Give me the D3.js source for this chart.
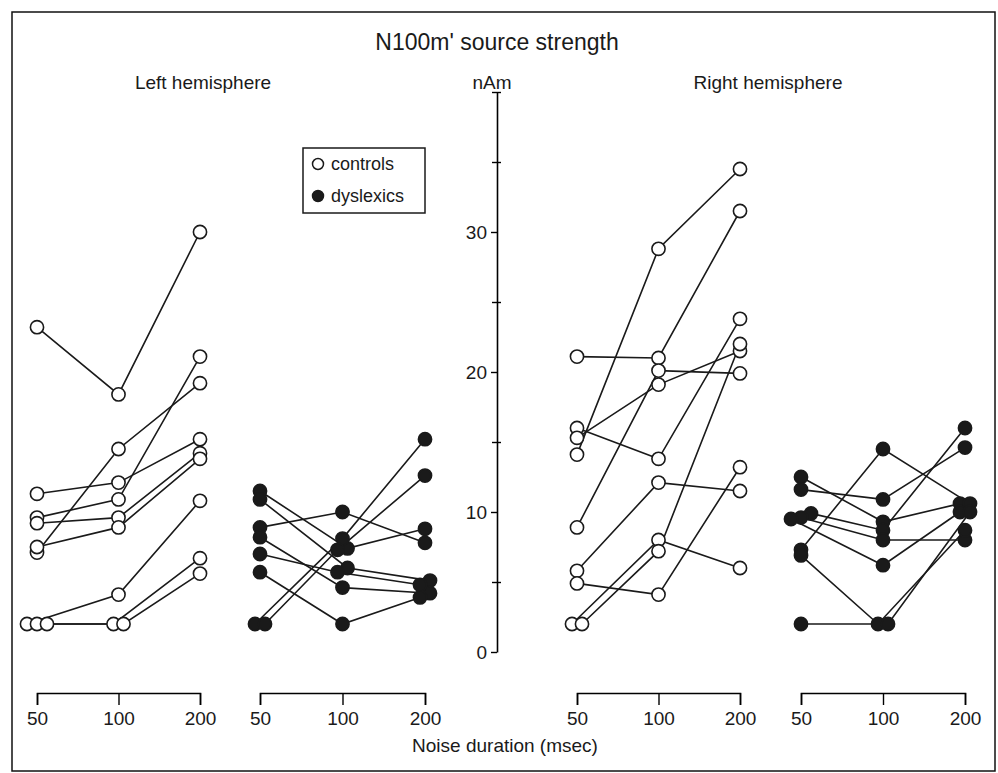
<!DOCTYPE html>
<html>
<head>
<meta charset="utf-8">
<script src="https://cdn.jsdelivr.net/npm/d3@7"></script>
<style>
  body { margin: 0; background: #fff; }
  text { font-family: "Liberation Sans", Arial, sans-serif; fill: #1a1a1a; }
</style>
</head>
<body>
<script>
// noise durations (msec)
const durations = ["50", "100", "200"];

// one row per subject: source strength (nAm) at 50, 100, 200 msec
const leftControls = [
    [23.2, 18.4, 30.0],
    [7.1, 14.5, 19.2],
    [9.6, 10.9, 21.1],
    [11.3, 12.1, 15.2],
    [9.2, 9.6, 14.2],
    [7.5, 8.9, 13.8],
    [2.0, 4.1, 10.8],
    [2.0, 2.0, 6.7],
    [2.0, 2.0, 5.6]
];
const leftDyslexics = [
    [11.5, 7.4, 8.8],
    [10.9, 6.0, 5.1],
    [8.9, 10.0, 7.8],
    [8.2, 4.6, 4.2],
    [7.0, 5.7, 4.8],
    [5.7, 2.0, 3.9],
    [2.0, 8.1, 15.2],
    [2.0, 7.3, 12.6]
];
const rightControls = [
    [14.1, 28.8, 34.5],
    [21.1, 21.0, 31.5],
    [16.0, 13.8, 23.8],
    [15.3, 19.1, 21.5],
    [8.9, 20.1, 19.9],
    [5.8, 12.1, 11.5],
    [4.9, 4.1, 13.2],
    [2.0, 8.0, 6.0],
    [2.0, 7.2, 22.0]
];
const rightDyslexics = [
    [12.5, 9.3, 10.6],
    [11.6, 10.9, 14.6],
    [9.9, 8.7, 16.0],
    [9.6, 8.0, 8.0],
    [9.5, 6.2, 10.0],
    [7.3, 14.5, 10.6],
    [6.9, 2.0, 8.7],
    [2.0, 2.0, 10.0]
];

const yMajorTicks = [0, 10, 20, 30];
const yMinorTicks = [5, 15, 25, 35, 40];

const panels = [
    { rows: leftControls, filled: false, range: [37, 200] },
    { rows: leftDyslexics, filled: true, range: [260, 425] },
    { rows: rightControls, filled: false, range: [577, 740] },
    { rows: rightDyslexics, filled: true, range: [801, 965] }
];

const width = 998, height = 773;
const svg = d3.select("body").append("svg")
    .attr("width", width)
    .attr("height", height);

// frame
svg.append("rect")
    .attr("x", 12).attr("y", 12)
    .attr("width", 983).attr("height", 759)
    .attr("fill", "none")
    .attr("stroke", "#111")
    .attr("stroke-width", 1.5);

const y = d3.scaleLinear().domain([0, 40]).range([652, 92]);

// headings
svg.append("text").attr("x", 497).attr("y", 50)
    .attr("text-anchor", "middle").style("font-size", "23px")
    .text("N100m' source strength");
svg.append("text").attr("x", 203).attr("y", 89)
    .attr("text-anchor", "middle").style("font-size", "19px")
    .text("Left hemisphere");
svg.append("text").attr("x", 492).attr("y", 89)
    .attr("text-anchor", "middle").style("font-size", "19px")
    .text("nAm");
svg.append("text").attr("x", 768).attr("y", 89)
    .attr("text-anchor", "middle").style("font-size", "19px")
    .text("Right hemisphere");
svg.append("text").attr("x", 505).attr("y", 752)
    .attr("text-anchor", "middle").style("font-size", "19px")
    .text("Noise duration (msec)");

// central y axis
const yAxisX = 497;
const yAxis = svg.append("g")
    .attr("transform", `translate(${yAxisX},0)`)
    .call(d3.axisLeft(y).tickValues(yMajorTicks).tickSize(6).tickSizeOuter(0).tickPadding(4));
yAxis.select(".domain").attr("stroke-width", 1.6);
yAxis.selectAll(".tick line").attr("stroke-width", 1.4);
yAxis.selectAll("text").style("font-size", "19px").attr("fill", "#1a1a1a");

svg.append("g")
    .attr("transform", `translate(${yAxisX},0)`)
    .call(d3.axisLeft(y).tickValues(yMinorTicks).tickSize(5).tickFormat(""))
    .call(g => g.select(".domain").remove())
    .selectAll(".tick line").attr("stroke-width", 1.4);
svg.append("g")
    .attr("transform", `translate(${yAxisX},0)`)
    .call(d3.axisRight(y).tickValues(yMinorTicks).tickSize(4).tickFormat(""))
    .call(g => g.select(".domain").remove())
    .selectAll(".tick line").attr("stroke-width", 1.4);

// place points, nudging near-ties sideways so they stay visible
function layout(rows, x) {
    const pts = rows.map(r => r.map((v, i) => ({ v, cat: durations[i], dx: 0 })));
    durations.forEach((c, i) => {
        const col = pts.map(p => p[i]).sort((a, b) => a.v - b.v);
        let cluster = [col[0]];
        const flush = () => {
            const k = cluster.length;
            cluster.forEach((p, j) => { p.dx = (j - (k - 1) / 2) * 10; });
        };
        for (let j = 1; j < col.length; j++) {
            if (Math.abs(y(col[j].v) - y(cluster[cluster.length - 1].v)) < 5) {
                cluster.push(col[j]);
            } else {
                flush();
                cluster = [col[j]];
            }
        }
        flush();
    });
    pts.forEach(p => p.forEach(d => { d.px = x(d.cat) + d.dx; d.py = y(d.v); }));
    return pts;
}

const line = d3.line().x(d => d.px).y(d => d.py);

panels.forEach(panel => {
    const x = d3.scalePoint().domain(durations).range(panel.range);
    const pts = layout(panel.rows, x);
    const g = svg.append("g");

    g.selectAll("path.subject")
        .data(pts)
        .enter().append("path")
        .attr("class", "subject")
        .attr("d", line)
        .attr("fill", "none")
        .attr("stroke", "#1a1a1a")
        .attr("stroke-width", 1.6);

    g.selectAll("circle")
        .data(pts.flat())
        .enter().append("circle")
        .attr("cx", d => d.px)
        .attr("cy", d => d.py)
        .attr("r", 6.6)
        .attr("fill", panel.filled ? "#1a1a1a" : "#fff")
        .attr("stroke", "#1a1a1a")
        .attr("stroke-width", 1.6);

    const ax = svg.append("g")
        .attr("transform", "translate(0,693)")
        .call(d3.axisBottom(x).tickSize(12).tickSizeOuter(12).tickPadding(7));
    ax.select(".domain").attr("stroke-width", 1.6);
    ax.selectAll(".tick line").attr("stroke-width", 1.4);
    ax.selectAll("text").style("font-size", "19px").attr("fill", "#1a1a1a");
});

// legend
const legend = svg.append("g");
legend.append("rect")
    .attr("x", 303).attr("y", 148)
    .attr("width", 122).attr("height", 65)
    .attr("fill", "#fff").attr("stroke", "#1a1a1a").attr("stroke-width", 1.5);
const legendItems = [
    { label: "controls", filled: false },
    { label: "dyslexics", filled: true }
];
legendItems.forEach((d, i) => {
    legend.append("circle")
        .attr("cx", 318).attr("cy", 164 + i * 32)
        .attr("r", 5.5)
        .attr("fill", d.filled ? "#1a1a1a" : "#fff")
        .attr("stroke", "#1a1a1a").attr("stroke-width", 1.5);
    legend.append("text")
        .attr("x", 331).attr("y", 164 + i * 32)
        .attr("dy", "0.35em")
        .style("font-size", "18px")
        .text(d.label);
});
</script>
</body>
</html>
